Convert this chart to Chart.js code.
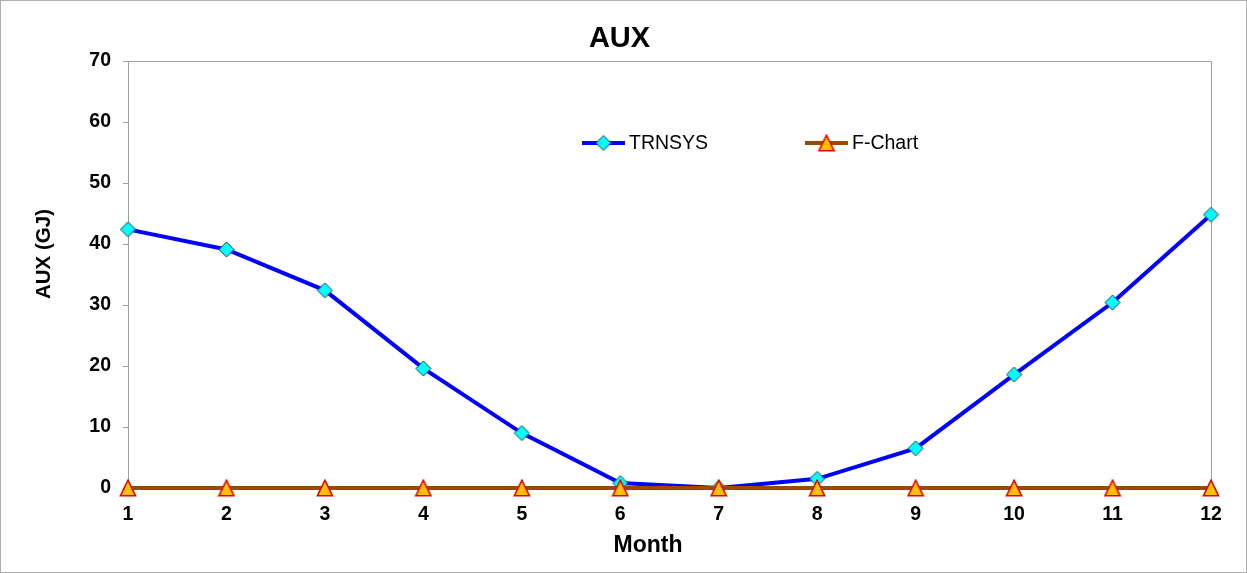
<!DOCTYPE html>
<html>
<head>
<meta charset="utf-8">
<script src="https://cdn.jsdelivr.net/npm/chart.js@4/dist/chart.umd.min.js"></script>
<style>
    html, body { margin: 0; padding: 0; background: #fff; }
    #wrap { width: 1247px; height: 573px; position: relative; }
</style>
</head>
<body>
<div id="wrap"><canvas id="auxChart" width="1247" height="573"></canvas></div>
<script>
// Dados do gráfico
const months = ['1', '2', '3', '4', '5', '6', '7', '8', '9', '10', '11', '12'];
const trnsys = [42.4, 39.1, 32.4, 19.6, 9.0, 0.8, 0.0, 1.5, 6.5, 18.6, 30.4, 44.8];
const fchart = [0, 0, 0, 0, 0, 0, 0, 0, 0, 0, 0, 0];
const yTicks = [0, 10, 20, 30, 40, 50, 60, 70];

const FONT = "'Liberation Sans', Arial, sans-serif";
const AXIS_GRAY = '#a0a0a0';

// Marcadores no estilo Excel (losango e triângulo)
function makeDiamond() {
    const c = document.createElement('canvas');
    c.width = 17; c.height = 17;
    const g = c.getContext('2d');
    g.beginPath();
    g.moveTo(8.5, 1); g.lineTo(16, 8.5); g.lineTo(8.5, 16); g.lineTo(1, 8.5);
    g.closePath();
    g.fillStyle = '#00FFFF';
    g.fill();
    g.strokeStyle = '#1F3A4F';
    g.lineWidth = 1;
    g.stroke();
    return c;
}

function makeTriangle() {
    const c = document.createElement('canvas');
    c.width = 18; c.height = 18;
    const g = c.getContext('2d');
    g.beginPath();
    g.moveTo(9, 1.2); g.lineTo(16.6, 16.8); g.lineTo(1.4, 16.8);
    g.closePath();
    g.fillStyle = '#FFC000';
    g.fill();
    g.strokeStyle = '#E00000';
    g.lineWidth = 1.5;
    g.stroke();
    return c;
}

const diamond = makeDiamond();
const triangle = makeTriangle();

// Moldura da área do gráfico + borda externa
const framePlugin = {
    id: 'frame',
    beforeDatasetsDraw(chart) {
        const { ctx, chartArea: a } = chart;
        ctx.save();
        ctx.strokeStyle = AXIS_GRAY;
        ctx.lineWidth = 1;
        ctx.beginPath();
        ctx.moveTo(a.left + 0.5, a.bottom);
        ctx.lineTo(a.left + 0.5, a.top + 0.5);
        ctx.lineTo(a.right + 0.5, a.top + 0.5);
        ctx.lineTo(a.right + 0.5, a.bottom);
        ctx.stroke();
        ctx.strokeStyle = '#b0b0b0';
        ctx.strokeRect(0.5, 0.5, chart.width - 1, chart.height - 1);
        ctx.restore();
    }
};

// Títulos (gráfico e eixos) posicionados como no original
const titlesPlugin = {
    id: 'titles',
    afterDraw(chart) {
        const { ctx } = chart;
        ctx.save();
        ctx.fillStyle = '#000';
        ctx.textAlign = 'center';
        ctx.textBaseline = 'alphabetic';
        ctx.font = 'bold 29px ' + FONT;
        ctx.fillText('AUX', 619.5, 47);
        ctx.font = 'bold 23px ' + FONT;
        ctx.fillText('Month', 648, 552);
        ctx.translate(50, 254);
        ctx.rotate(-Math.PI / 2);
        ctx.font = 'bold 20.5px ' + FONT;
        ctx.fillText('AUX (GJ)', 0, 0);
        ctx.restore();
    }
};

// Legenda desenhada dentro da área do gráfico
const legendPlugin = {
    id: 'innerLegend',
    afterDraw(chart) {
        const { ctx } = chart;
        const items = [
            { ds: chart.data.datasets[0], x: 582 },
            { ds: chart.data.datasets[1], x: 805 }
        ];
        const y = 143;
        ctx.save();
        items.forEach(item => {
            const ds = item.ds;
            ctx.strokeStyle = ds.borderColor;
            ctx.lineWidth = ds.borderWidth;
            ctx.beginPath();
            ctx.moveTo(item.x, y);
            ctx.lineTo(item.x + 43, y);
            ctx.stroke();
            const img = ds.pointStyle;
            ctx.drawImage(img, item.x + 21.5 - img.width / 2, y - img.height / 2);
            ctx.fillStyle = '#000';
            ctx.font = '19.5px ' + FONT;
            ctx.textBaseline = 'middle';
            ctx.fillText(ds.label, item.x + 47, y + 1);
        });
        ctx.restore();
    }
};

const ctx = document.getElementById('auxChart').getContext('2d');
const auxChart = new Chart(ctx, {
    type: 'line',
    data: {
        labels: months,
        datasets: [
            {
                label: 'TRNSYS',
                data: trnsys,
                borderColor: '#0000FF',
                borderWidth: 4,
                pointStyle: diamond,
                tension: 0,
                order: 1
            },
            {
                label: 'F-Chart',
                data: fchart,
                borderColor: '#994C00',
                borderWidth: 4,
                pointStyle: triangle,
                tension: 0,
                order: 0
            }
        ]
    },
    options: {
        responsive: false,
        animation: false,
        clip: false,
        layout: { padding: { left: 0, right: 36, top: 61, bottom: 0 } },
        plugins: {
            legend: { display: false },
            tooltip: { enabled: false },
            title: { display: false }
        },
        scales: {
            x: {
                offset: false,
                grid: { display: true, drawOnChartArea: false, drawTicks: true, tickLength: 5, color: AXIS_GRAY },
                border: { display: true, color: AXIS_GRAY },
                ticks: {
                    color: '#000',
                    padding: 10,
                    maxRotation: 0,
                    autoSkip: false,
                    font: { family: FONT, size: 19.5, weight: 'bold' }
                },
                afterFit(scale) { scale.height = 85; }
            },
            y: {
                min: yTicks[0],
                max: yTicks[yTicks.length - 1],
                afterBuildTicks(scale) { scale.ticks = yTicks.map(v => ({ value: v })); },
                grid: { display: true, drawOnChartArea: false, drawTicks: true, tickLength: 5, color: AXIS_GRAY },
                border: { display: true, color: AXIS_GRAY },
                ticks: {
                    color: '#000',
                    padding: 12,
                    font: { family: FONT, size: 19.5, weight: 'bold' }
                },
                afterFit(scale) { scale.width = 128; }
            }
        }
    },
    plugins: [framePlugin, legendPlugin, titlesPlugin]
});
</script>
</body>
</html>
